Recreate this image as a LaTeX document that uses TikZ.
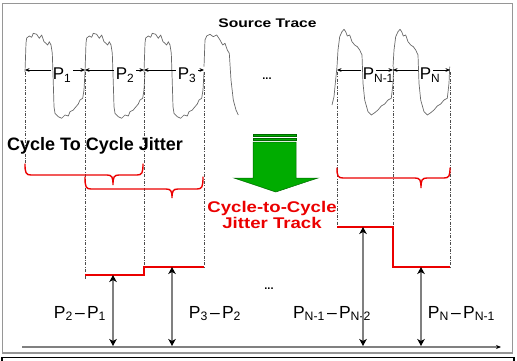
\documentclass[tikz,border=0pt]{standalone}
\usepackage{fontspec}
\setmainfont{Liberation Sans}
\usetikzlibrary{arrows.meta}
\definecolor{wavegray}{RGB}{105,105,105}
\definecolor{framegray}{RGB}{150,150,150}
\definecolor{axgray}{RGB}{128,128,128}
\definecolor{jred}{RGB}{235,0,0}
\definecolor{agreen}{RGB}{0,172,0}
\definecolor{agreenD}{RGB}{0,105,0}
\newcommand\myfs[2]{\fontsize{#1}{#2}\selectfont}
\newcommand\jbrace[6]{\draw[brace] (#1,#4) .. controls (#1,#5-2) and (#1+1,#5) .. (#1+6,#5) -- (#3-6,#5) .. controls (#3-1,#5) and (#3,#5+2) .. (#3,#6) .. controls (#3,#5+2) and (#3+1,#5) .. (#3+6,#5) -- (#2-6,#5) .. controls (#2-1,#5) and (#2,#5-2) .. (#2,#4);}
\tikzset{
 wave/.style={draw=wavegray, line width=0.7pt, line join=round},
 cycA/.pic={\draw[wave] (0,72) -- (1,43) -- (1.7,38) -- (4.3,36) -- (6.7,37.3) -- (8.3,33.3) -- (11.7,34.3) -- (14.3,38.3) -- (16.7,35) -- (19,41.7) -- (21,43.3) -- (22.7,45) -- (24.3,41.7) -- (26,45) -- (27.3,53.3) -- (28.3,83.3) -- (29,106.7) -- (30,113.3) -- (33.3,116.7) -- (36.7,118.3) -- (40,115) -- (43.3,116) -- (45,111.7) -- (48.3,110) -- (51,106.7) -- (53.3,104) -- (55,100) -- (57.7,98.3) -- (59,90) -- (60,72);},
 cycB/.pic={\draw[wave] (0,66.7) -- (1,50) -- (2.7,36.7) -- (5,31.7) -- (7,29.3) -- (8.7,31.7) -- (10.3,36) -- (12.7,35) -- (15,41.7) -- (17.7,45) -- (20.3,46.7) -- (22.7,50) -- (25,55) -- (26,83.3) -- (27.7,100) -- (31,111.7) -- (34.3,115) -- (37.7,112.7) -- (41,110) -- (44.3,106) -- (47.7,104) -- (51,100) -- (54.3,98.3) -- (56,83.3) -- (56.7,66.7);},
}
\begin{document}
\begin{tikzpicture}[x=1pt,y=-1pt,
 guide/.style={draw=black!70, line width=0.6pt, dash pattern=on 3pt off 1.5pt on 0.8pt off 1.5pt},
 parr/.style={-{Stealth[length=4.5pt,width=3.8pt]}, line width=0.6pt},
 brace/.style={draw=jred, line width=1.4pt, line cap=round},
 track/.style={draw=jred, line width=1.4pt},
 varr/.style={{Stealth[length=7pt,width=7.5pt,inset=2pt,color=black]}-{Stealth[length=7pt,width=7.5pt,inset=2pt,color=black]}, draw=axgray, line width=1.2pt},
 axis/.style={draw=axgray, line width=1.8pt, -{Stealth[length=5pt,width=4pt,color=black]}},
 plab/.style={font=\myfs{17}{17}, inner sep=2pt, anchor=base},
 dlab/.style={font=\myfs{17.5}{17.5}, inner sep=0pt, anchor=base},
]
\useasboundingbox (0,0) rectangle (517,361);
% frame
\draw[framegray, line width=1.5pt] (2.5,3.5) rectangle (512.5,353);
\draw[black, line width=1.2pt] (2,372) -- (2,357.5) -- (514,357.5) -- (514,372);

% source waveform
\pic at (25,0) {cycA};
\pic at (85,0) {cycA};
\pic at (144,0) {cycA};
\draw[wave] (204,66.7) -- (205,40) -- (206.7,36) -- (210,34.3) -- (213.3,36.7) -- (216.7,35) -- (220,40) -- (222.7,45) -- (225,43.3) -- (227.3,50) -- (229.3,53.3) -- (231,80) -- (233.3,100) -- (236,110) -- (238.3,115);
\draw[wave] (332,105) -- (334,96.7) -- (335.3,83.3) -- (337,66.7);
\pic at (337,0) {cycB};
\pic at (393,0) {cycB};

% edge coordinates
\foreach \n/\x in {1/25,2/85,3/144,4/204,5/337,6/393,7/450}{
  \coordinate (e\n) at (\x,70);
}
% guides
\draw[guide] (25,72) -- (25,164);
\draw[guide] (85,72) -- (85,280);
\draw[guide] (144,72) -- (144,267);
\draw[guide] (204,72) -- (204,267);
\draw[guide] (337,72) -- (337,227);
\draw[guide] (393,72) -- (393,227);
\draw[guide] (450,72) -- (450,267);

% period labels and arrows
\node[plab] (p1) at (62,80) {P\textsubscript{1}};
\node[plab] (p2) at (125,80) {P\textsubscript{2}};
\node[plab] (p3) at (187,80) {P\textsubscript{3}};
\node[plab] (p4) at (368.5,80) {P\rlap{\textsubscript{N-1}}};
\node[plab] (p5) at (425.5,80) {P\rlap{\textsubscript{N}}};
\draw[parr] (e1 -| p1.west) -- (e1);
\draw[parr] (e1 -| p1.east) -- (e2);
\draw[parr] (e1 -| p2.west) -- (e2);
\draw[parr] (e1 -| p2.east) -- (e3);
\draw[parr] (e1 -| p3.west) -- (e3);
\draw[parr] (e1 -| p3.east) -- (e4);
\draw[parr] (e1 -| p4.west) -- (e5);
\draw[parr] (e1 -| p4.east) -- (e6);
\draw[parr] (e1 -| p5.west) -- (e6);
\draw[parr] (e1 -| p5.east) -- (e7);

% titles
\node[font=\bfseries\myfs{12.5}{12.5}, anchor=base, inner sep=0pt] (src) at (267.5,27.3) {\scalebox{1.25}[1]{Source Trace}};
\node[font=\bfseries\myfs{11}{11}, anchor=base, inner sep=0pt] (dots1) at (267,80) {...};
\node[font=\bfseries\myfs{18}{18}, anchor=base west, inner sep=0pt] (ctc) at (7,150) {Cycle To Cycle Jitter};
\node[text=jred, font=\bfseries\myfs{15.5}{16}, align=center, anchor=base, inner sep=0pt] (trk) at (272,228) {\scalebox{1.2}[1]{Cycle-to-Cycle}\\\scalebox{1.2}[1]{Jitter Track}};
\node[font=\bfseries\myfs{11}{11}, anchor=base, inner sep=0pt] (dots2) at (269,289) {...};

% green arrow
\fill[agreen, draw=agreenD, line width=0.5pt] (253,133.8) rectangle (296,136.3);
\fill[agreen, draw=agreenD, line width=0.5pt] (253,137.8) rectangle (296,140.3);
\fill[agreen, draw=agreenD, line width=0.5pt] (253,142) -- (296,142) -- (296,178) -- (318,178) -- (275.7,192) -- (234,178) -- (253,178) -- cycle;

% braces
\jbrace{25}{143}{113}{164}{175}{185}
\jbrace{85}{203}{172}{177}{189}{198}
\jbrace{337}{450}{421}{168}{178}{188}

% jitter track
\draw[track] (85,275) -- (144,275) -- (144,267) -- (204,267);
\draw[track] (337,227) -- (393,227) -- (393,267) -- (450,267);

% difference labels
\node[dlab] (d1) at (80,318) {P\textsubscript{2}\hspace{2.2pt}\textendash\hspace{2.2pt}P\textsubscript{1}};
\node[dlab] (d2) at (215,318) {P\textsubscript{3}\hspace{2.2pt}\textendash\hspace{2.2pt}P\textsubscript{2}};
\node[dlab] (d3) at (332,318) {P\textsubscript{N-1}\hspace{2.2pt}\textendash\hspace{2.2pt}P\textsubscript{N-2}};
\node[dlab] (d4) at (461.5,318) {P\textsubscript{N}\hspace{2.2pt}\textendash\hspace{2.2pt}P\textsubscript{N-1}};

% axis and difference arrows
\coordinate (ax0) at (22,347);
\coordinate (ax1) at (501,347);
\draw[axis] (ax0) -- (ax1);
\coordinate (t1) at (113,275); \coordinate (b1) at (113,346);
\coordinate (t2) at (172,267); \coordinate (b2) at (172,346);
\coordinate (t3) at (363,227); \coordinate (b3) at (363,346);
\coordinate (t4) at (421,267); \coordinate (b4) at (421,346);
\draw[varr] (t1) -- (b1);
\draw[varr] (t2) -- (b2);
\draw[varr] (t3) -- (b3);
\draw[varr] (t4) -- (b4);
\end{tikzpicture}
\end{document}
